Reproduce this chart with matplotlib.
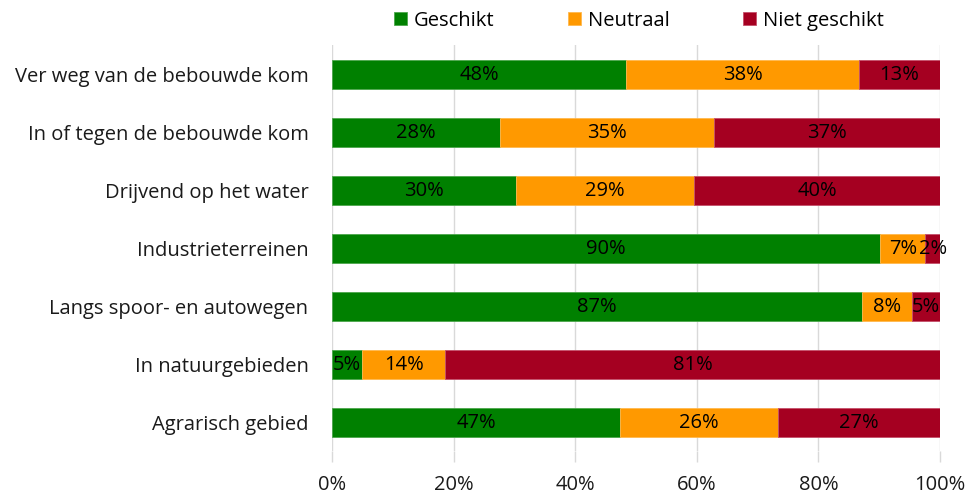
import matplotlib
matplotlib.use("Agg")
import matplotlib.pyplot as plt
import numpy as np

categories = ["Ver weg van de bebouwde kom", "In of tegen de bebouwde kom",
              "Drijvend op het water", "Industrieterreinen",
              "Langs spoor- en autowegen", "In natuurgebieden", "Agrarisch gebied"]
geschikt = [48.4, 27.6, 30.2, 90.2, 87.1, 5.0, 47.4]
neutraal = [38.3, 35.3, 29.4, 7.4, 8.3, 13.6, 26.0]
niet_geschikt = [13.3, 37.1, 40.4, 2.4, 4.6, 81.4, 26.6]
series_names = ["Geschikt", "Neutraal", "Niet geschikt"]
colors = ["#008000", "#FF9900", "#A50021"]
edge_colors = ["#4CA64C", "#FFB84D", "#C4506A"]

plt.rcParams['font.family'] = ['Open Sans', 'DejaVu Sans']

fig = plt.figure(figsize=(9.68, 4.93), dpi=100)
ax = fig.add_axes([332/968, 1-451/493, 608/968, (451-45)/493])

y = np.arange(len(categories))
left = np.zeros(len(categories))
for vals, name, c, ec in zip([geschikt, neutraal, niet_geschikt], series_names, colors, edge_colors):
    vals = np.array(vals)
    ax.barh(y, vals, left=left, height=0.5, color=c, edgecolor=ec, linewidth=0.6,
            label=name, zorder=3)
    for yi, l, v in zip(y, left, vals):
        ax.text(l + v/2, yi + 0.02, f"{v:.0f}%", ha="center", va="center", fontsize=14.5,
                color="#000000", zorder=4)
    left += vals

ax.set_xlim(0, 100)
ax.set_ylim(len(categories) - 0.5, -0.5)
ax.set_yticks(y)
ax.set_yticklabels(categories, fontsize=14.5, color="#1a1a1a")
ax.set_xticks([0, 20, 40, 60, 80, 100])
ax.set_xticklabels([f"{t}%" for t in [0, 20, 40, 60, 80, 100]], fontsize=14.5, color="#1a1a1a")
ax.tick_params(axis="y", length=0, pad=17)
ax.tick_params(axis="x", length=8, color="#D9D9D9", width=1, pad=9)
ax.grid(axis="x", color="#D9D9D9", linewidth=1, zorder=0)
for s in ax.spines.values():
    s.set_visible(False)

fig.legend(loc="upper center", bbox_to_anchor=(639/968, 1.015), ncol=3, frameon=False,
           fontsize=14.5, handlelength=0.65, handleheight=0.65, handletextpad=0.35,
           columnspacing=3.65)

fig.savefig("out.png", dpi=100)
